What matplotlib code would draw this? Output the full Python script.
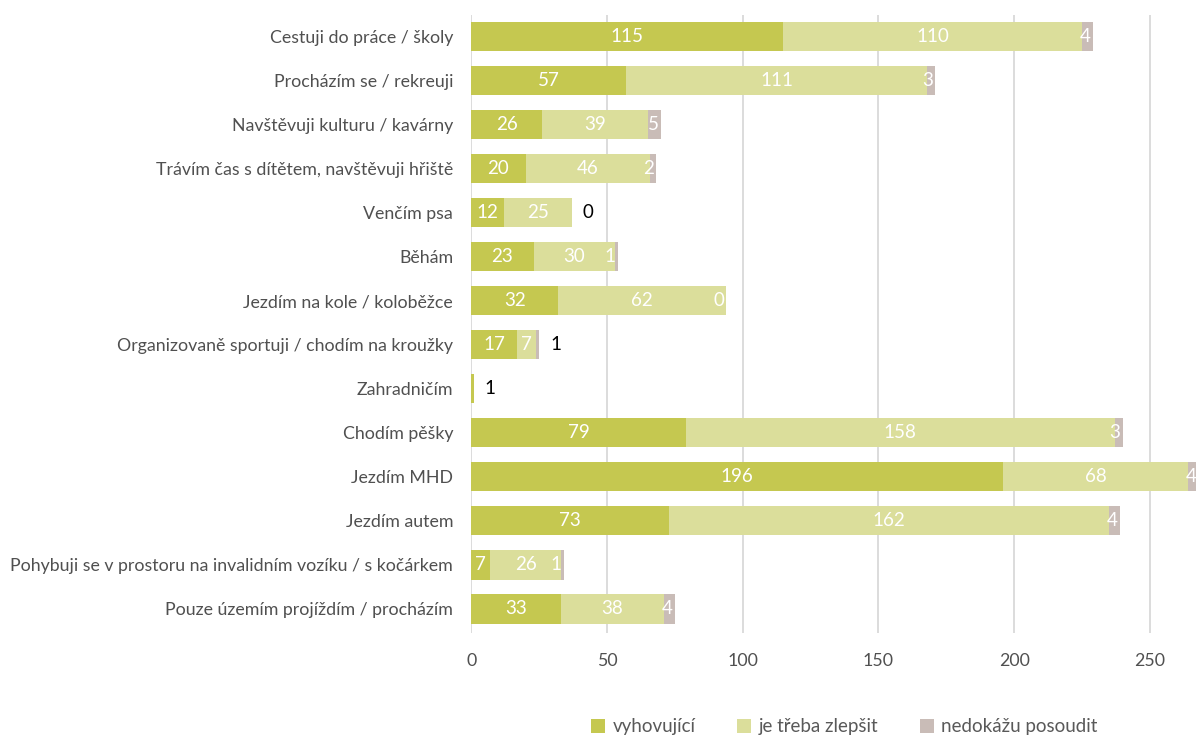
import numpy as np
import matplotlib.pyplot as plt

plt.rcParams['font.family'] = ['Lato', 'DejaVu Sans']

categories = [
    "Cestuji do práce / školy",
    "Procházím se / rekreuji",
    "Navštěvuji kulturu / kavárny",
    "Trávím čas s dítětem, navštěvuji hřiště",
    "Venčím psa",
    "Běhám",
    "Jezdím na kole / koloběžce",
    "Organizovaně sportuji / chodím na kroužky",
    "Zahradničím",
    "Chodím pěšky",
    "Jezdím MHD",
    "Jezdím autem",
    "Pohybuji se v prostoru na invalidním vozíku / s kočárkem",
    "Pouze územím projíždím / procházím",
]
vyhovujici = [115, 57, 26, 20, 12, 23, 32, 17, 1, 79, 196, 73, 7, 33]
zlepsit = [110, 111, 39, 46, 25, 30, 62, 7, 0, 158, 68, 162, 26, 38]
nedokazu = [4, 3, 5, 2, 0, 1, 0, 1, 0, 3, 4, 4, 1, 4]
# rows whose last label sits outside the bar (black)
outside = ["Venčím psa", "Organizovaně sportuji / chodím na kroužky", "Zahradničím"]

series = [vyhovujici, zlepsit, nedokazu]
names = ["vyhovující", "je třeba zlepšit", "nedokážu posoudit"]
colors = ["#c5c850", "#dbde9b", "#c9bcb7"]

fig = plt.figure(figsize=(11.96, 7.38), dpi=100)
ax = fig.add_axes([0.394, 0.142, 0.606, 0.838])

y = np.arange(len(categories))
left = np.zeros(len(categories))
for vals, name, col in zip(series, names, colors):
    ax.barh(y, vals, left=left, height=0.66, color=col, label=name, zorder=2)
    left += np.array(vals)

lsize = 13.5
left = np.zeros(len(categories))
for k, vals in enumerate(series):
    for i, v in enumerate(vals):
        cat = categories[i]
        start = left[i]
        end = start + v
        if cat == "Zahradničím":
            if k == 0:
                ax.text(end + 4, i, str(v), ha='left', va='center',
                        fontsize=lsize, color='black')
        elif k == 2:
            if cat in outside:
                ax.text(end + 4, i, str(v), ha='left', va='center',
                        fontsize=lsize, color='black')
            else:
                ax.text(end - 0.8, i, str(v), ha='right', va='center',
                        fontsize=lsize, color='white')
        elif v > 0:
            ax.text(start + v / 2, i, str(v), ha='center', va='center',
                    fontsize=lsize, color='white')
    left += np.array(vals)

ax.set_yticks(y)
ax.set_yticklabels(categories, fontsize=12.8, color='#505050')
ax.set_ylim(len(categories) - 0.45, -0.5)
ax.set_xlim(0, 267)
ax.set_xticks([0, 50, 100, 150, 200, 250])
ax.tick_params(axis='x', labelsize=12.8, labelcolor='#505050', length=0, pad=14)
ax.tick_params(axis='y', length=0, pad=13)
ax.xaxis.grid(True, color='#d9d9d9', linewidth=1.3, zorder=0)
ax.set_axisbelow(True)
for s in ax.spines.values():
    s.set_visible(False)

ax.legend(loc='center', bbox_to_anchor=(0.706, 0.015), bbox_transform=fig.transFigure,
          ncol=3, frameon=False, fontsize=13.5, handlelength=0.75, handleheight=0.75,
          columnspacing=2.2, handletextpad=0.4, labelcolor='#595959')

fig.savefig("out.png", dpi=100)
